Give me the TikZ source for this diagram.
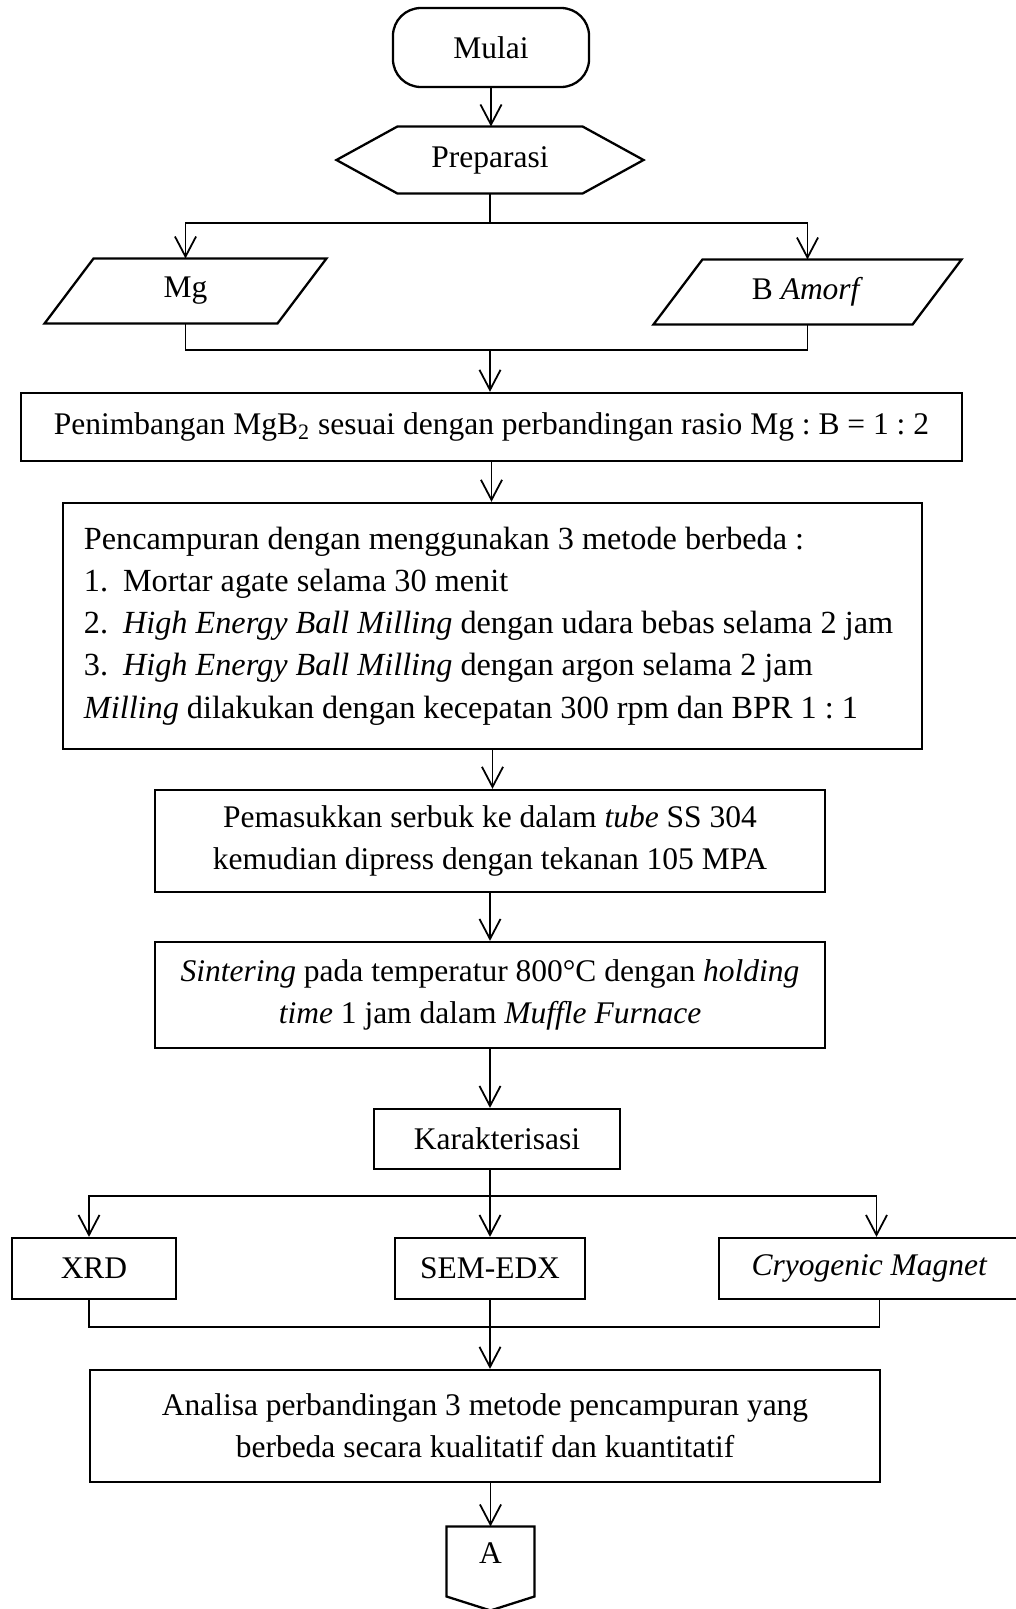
\documentclass[tikz,border=0pt]{standalone}
\usepackage{fontspec}
\setmainfont{Liberation Serif}
\usetikzlibrary{arrows.meta,calc}

\begin{document}
\begin{tikzpicture}[x=0.3937pt, y=-0.3937pt,
  font=\fontsize{12.4}{16.6}\selectfont\frenchspacing,
  box/.style={draw, line width=0.9pt, inner sep=0pt, align=center},
  bare/.style={inner sep=0pt, align=center},
  line/.style={line width=0.7pt},
  arr/.style={line width=0.7pt, -{Straight Barb[length=7.9pt,width=8.3pt]}}]
\useasboundingbox (0,0) rectangle (1016,1609);

%%%%%%%%%%
% Nodes
%%%%%%%%%%
\node[box, rounded corners=11pt, minimum width=77.2pt, minimum height=31.1pt] (mulai) at (491,47.5) {Mulai};
\node[bare, minimum width=120.5pt, minimum height=26pt] (prep) at (490,160) {Preparasi};
\node[bare, minimum width=110.6pt, minimum height=25.2pt] (mg) at (185.5,291) {Mg};
\node[bare, minimum width=120.9pt, minimum height=25.2pt] (bam) at (807.5,292) {B \textit{Amorf}};
\node[box, minimum width=370.5pt, minimum height=26.8pt] (timbang) at (491.5,427) {Penimbangan MgB\textsubscript{2} sesuai dengan perbandingan rasio Mg : B = 1 : 2};
\node[box, align=left, text width=321.7pt, inner xsep=8.27pt, minimum height=96.9pt,
  font=\fontsize{12.7}{16.6}\selectfont\frenchspacing] (campur) at (492.5,626) {\spaceskip=0pt\xspaceskip=0pt\relax
Pencampuran dengan menggunakan 3 metode berbeda :\\
\makebox[15.4pt][l]{1.}Mortar agate selama 30 menit\\
\makebox[15.4pt][l]{2.}\textit{High Energy Ball Milling} dengan udara bebas selama 2 jam\\
\makebox[15.4pt][l]{3.}\textit{High Energy Ball Milling} dengan argon selama 2 jam\\
\textit{Milling} dilakukan dengan kecepatan 300 rpm dan BPR 1 : 1};
\node[box, minimum width=263.8pt, minimum height=40.2pt] (masuk) at (490,841) {Pemasukkan serbuk ke dalam \textit{tube} SS 304\\kemudian dipress dengan tekanan 105 MPA};
\node[box, minimum width=263.8pt, minimum height=41.7pt] (sinter) at (490,995) {\textit{Sintering} pada temperatur 800°C dengan \textit{holding}\\\textit{time} 1 jam dalam \textit{Muffle Furnace}};
\node[box, minimum width=96.9pt, minimum height=23.6pt] (kar) at (497,1139) {Karakterisasi};
\node[box, minimum width=64.6pt, minimum height=24pt] (xrd) at (94,1268.5) {XRD};
\node[box, minimum width=74.8pt, minimum height=24pt] (sem) at (490,1268.5) {SEM-EDX};
\node[box, minimum width=118.5pt, minimum height=24pt] (cryo) at (869.5,1268.5) {\textit{Cryogenic Magnet}};
\node[box, minimum width=311pt, minimum height=44.1pt] (ana) at (485,1426) {Analisa perbandingan 3 metode pencampuran yang\\berbeda secara kualitatif dan kuantitatif};
\node[bare, minimum width=34.3pt, minimum height=20.5pt] (conA) at (490.5,1553) {A};

%%%%%%%%%%
% Outlines (hexagon, parallelograms, off-page)
%%%%%%%%%%
\draw[line width=0.9pt] (prep.west) -- ($(prep.north west)+(61,0)$) -- ($(prep.north east)+(-61,0)$) -- (prep.east) -- ($(prep.south east)+(-61,0)$) -- ($(prep.south west)+(61,0)$) -- cycle;
\foreach \p in {mg,bam} {
\draw[line width=0.9pt] ($(\p.north west)+(49,0)$) -- (\p.north east) -- ($(\p.south east)+(-49,0)$) -- (\p.south west) -- cycle;
}
\draw[line width=0.9pt] (conA.north west) -- (conA.north east) -- ($(conA.north east)+(0,70)$) -- ($(conA.north)+(0,84)$) -- ($(conA.north west)+(0,70)$) -- cycle;

%%%%%%%%%%
% Connectors
%%%%%%%%%%
% main axis
\foreach \a/\b in {mulai/prep, timbang/campur, campur/masuk, masuk/sinter, sinter/kar} {
\draw[arr] (\a.south) -- (\a.south |- \b.north);
}

% Preparasi -> Mg, B
\coordinate (s1) at (490,223);
\draw[line] (prep.south) -- (s1);
\draw[arr] (s1) -| (mg.north);
\draw[arr] (s1) -| (bam.north);
\coordinate (m1) at (490,350);
\draw[line] (mg.south) |- (m1) -| (bam.south);
\draw[arr] (m1) -- (m1 |- timbang.north);

% Karakterisasi -> XRD, SEM-EDX, Cryogenic
\coordinate (s2) at (490,1196);
\draw[line] (s2 |- kar.south) -- (s2);
\draw[arr] (s2) -| ($(xrd.north)+(-5,0)$);
\draw[arr] (s2) -- (s2 |- sem.north);
\draw[arr] (s2) -| ($(cryo.north)+(7,0)$);
\coordinate (m2) at (490,1327);
\draw[line] ($(xrd.south)+(-5,0)$) |- (m2) -| ($(cryo.south)+(10,0)$);
\draw[line] (sem.south) -- (m2);
\draw[arr] (m2) -- (m2 |- ana.north);
\draw[arr] (conA.north |- ana.south) -- (conA.north);

\end{tikzpicture}
\end{document}
